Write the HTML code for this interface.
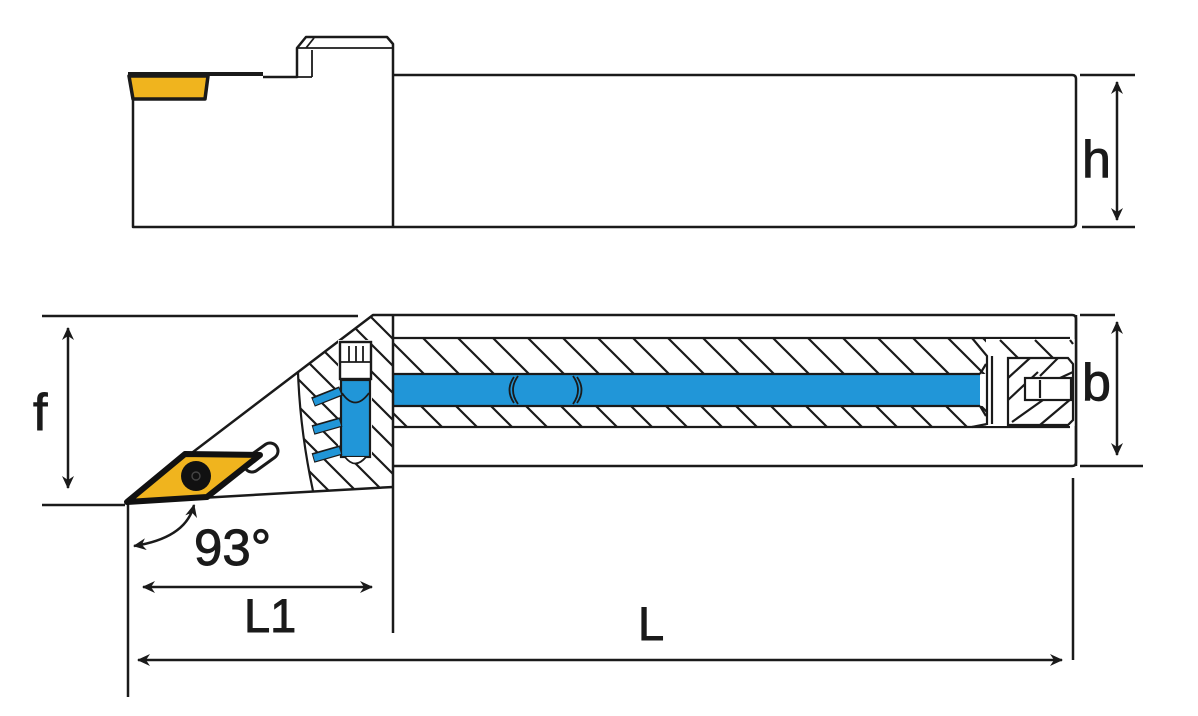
<!DOCTYPE html>
<html><head><meta charset="utf-8"><style>
html,body{margin:0;padding:0;background:#fff;}
svg{display:block;}
text{font-family:"Liberation Sans",sans-serif;fill:#1a1a1a;stroke:#1a1a1a;stroke-width:0.9px;}
</style></head><body>
<svg width="1198" height="716" viewBox="0 0 1198 716" xmlns="http://www.w3.org/2000/svg">
<defs>
<marker id="ar" markerUnits="userSpaceOnUse" markerWidth="14" markerHeight="12" refX="12" refY="6" orient="auto-start-reverse">
<path d="M0,0 L13,6 L0,12 L4,6 z" fill="#1a1a1a"/>
</marker>
<pattern id="h35" patternUnits="userSpaceOnUse" x="15" y="0" width="35" height="35">
<path d="M-5,-5 L40,40 M-40,-5 L5,40 M30,-5 L75,40" stroke="#1a1a1a" stroke-width="2.2"/>
</pattern>
<pattern id="h22" patternUnits="userSpaceOnUse" x="0" y="0" width="27" height="27">
<path d="M-5,-5 L32,32 M-32,-5 L5,32 M22,-5 L59,32" stroke="#1a1a1a" stroke-width="2.2"/>
</pattern>
<clipPath id="headclip"><path d="M298,372 L373,315 L393,315 L393,487 L313,491 Q300,430 298,372 Z"/></clipPath>
</defs>

<g stroke="#1a1a1a" stroke-width="2.5" fill="none" stroke-linejoin="round">
<!-- ===== TOP VIEW ===== -->
<path d="M133,99 L133,227 L1072,227 Q1076,227 1076,223 L1076,79 Q1076,75 1072,75 L393,75"/>
<path d="M263,77 L297,77 L297,48 L306,37 L387,37 L393,44 L393,227"/>
<path d="M297,48 L392,48 M306,48 L314,38 M312,50 L312,77 M297,77 L312,77" stroke-width="1.8"/>
<!-- insert top view -->
<path d="M128,74 L263,74" stroke-width="4"/>
<path d="M129,76 L208,76 L205,99 L133,99 Z" fill="#F0B41E" stroke-width="3.5"/>
<!-- h dimension -->
<path d="M1080,75 L1135,75 M1082,227 L1135,227"/>
<path d="M1117,82 L1117,220" marker-start="url(#ar)" marker-end="url(#ar)"/>

<!-- ===== BOTTOM VIEW ===== -->
<path d="M42,316 L358,316 M42,505 L125,505"/>
<path d="M68,328 L68,488" marker-start="url(#ar)" marker-end="url(#ar)"/>
<path d="M130,500 L373,315 L1072,315 Q1076,315 1076,319 L1076,462 Q1076,466 1072,466 L393,466"/>
<path d="M130,502 L393,487"/>
</g>

<!-- head hatch -->
<g clip-path="url(#headclip)">
<rect x="290" y="300" width="110" height="200" fill="url(#h22)"/>
</g>
<path d="M298,372 Q300,430 313,491" stroke="#1a1a1a" stroke-width="2.2" fill="none"/>
<!-- screw + rod in head -->
<rect x="338" y="340" width="34" height="122" fill="#fff" stroke="none"/>
<rect x="340" y="342" width="31" height="37" fill="#fff" stroke="#1a1a1a" stroke-width="2.4"/>
<path d="M349,346 L349,362 M356,346 L356,362 M363,346 L363,362 M341,362 L370,362" stroke="#1a1a1a" stroke-width="1.8"/>
<rect x="341" y="380" width="29" height="77" fill="#2196D8" stroke="#1a1a1a" stroke-width="2.2"/>
<path d="M342,393 Q355,412 369,393" stroke="#1a1a1a" stroke-width="1.8" fill="none"/>
<path d="M345,457 Q355,470 366,457" stroke="#1a1a1a" stroke-width="1.8" fill="#fff"/>
<!-- blue small bars -->
<g stroke="#1a1a1a" stroke-width="10" stroke-linecap="butt">
<path d="M313,402 L341,391 M313,430 L341,422 M313,458 L341,450"/>
</g>
<g stroke="#2196D8" stroke-width="7" stroke-linecap="butt">
<path d="M314,402 L340,391.5 M314,430 L340,422.5 M314,458 L340,450.5"/>
</g>

<!-- shank bottom view hatch bands -->
<rect x="394" y="338" width="592" height="36" fill="url(#h35)"/>
<rect x="394" y="406" width="592" height="21" fill="url(#h35)"/>
<g stroke="#1a1a1a" stroke-width="2.3" fill="none">
<path d="M393,338 L1070,338 M393,427 L1070,427"/>
</g>
<!-- right end fitting -->
<rect x="986" y="339" width="89" height="87" fill="#fff"/>
<g stroke="#1a1a1a" stroke-width="2.2" fill="none">
<path d="M972,338 L987,356 L987,424 L972,427"/>
<path d="M992,356 L992,424"/>
<path d="M1008,358 L1068,358 L1073,364 L1073,420 L1068,425 L1008,425 Z"/>
<path d="M1008,400 L1038,372 M1012,422 L1050,395 M1040,425 L1072,398 M1030,358 L1008,378 M1058,358 L1040,376 M1073,372 L1060,378 M1000,340 L1018,358 M1035,340 L1053,358 M1070,340 L1073,344"/>
<rect x="1025" y="378" width="46" height="22" fill="#fff"/>
<path d="M1040,380 L1040,398"/>
</g>
<!-- blue rod -->
<rect x="394" y="374" width="586" height="32" fill="#2196D8"/>
<path d="M393,374 L980,374 M393,406 L980,406 M980,374 L986,364 M980,406 L986,416" stroke="#1a1a1a" stroke-width="2.2" fill="none"/>
<path d="M518,376 Q508,390 518,404 M514,377 Q505,390 514,403 M573,376 Q583,390 573,404 M577,377 Q586,390 577,403" stroke="#1a1a1a" stroke-width="1.8" fill="none"/>

<g stroke="#1a1a1a" stroke-width="2.5" fill="none">
<path d="M393,315 L393,633"/>
<path d="M1076,315 L1076,466"/>
<path d="M1080,315 L1115,315 M1080,466 L1143,466"/>
<path d="M1117,322 L1117,455" marker-start="url(#ar)" marker-end="url(#ar)"/>
<path d="M128,502 L128,697 M1073,478 L1073,660"/>
<path d="M143,587 L372,587" marker-start="url(#ar)" marker-end="url(#ar)"/>
<path d="M138,660 L1062,660" marker-start="url(#ar)" marker-end="url(#ar)"/>
<path d="M134,546 Q186,538 194,505" marker-start="url(#ar)" marker-end="url(#ar)"/>
</g>

<!-- insert bottom view -->
<path d="M252,464 L270,451" stroke="#1a1a1a" stroke-width="19" stroke-linecap="round"/>
<path d="M252,464 L270,451" stroke="#fff" stroke-width="13" stroke-linecap="round"/>
<path d="M127,502 L185,454 L260,455 L207,497 Z" fill="#F0B41E" stroke="#111" stroke-width="6" stroke-linejoin="round"/>
<circle cx="196" cy="476" r="15" fill="#111"/>
<circle cx="196" cy="476" r="4" fill="none" stroke="#444" stroke-width="1.4"/>

<!-- labels -->
<text x="1082" y="177" font-size="52">h</text>
<text x="1082" y="400" font-size="52">b</text>
<text x="33" y="430" font-size="52">f</text>
<text x="194" y="565" font-size="51">93°</text>
<text x="244" y="632" font-size="47">L1</text>
<text x="638" y="640" font-size="47">L</text>
</svg>
</body></html>
